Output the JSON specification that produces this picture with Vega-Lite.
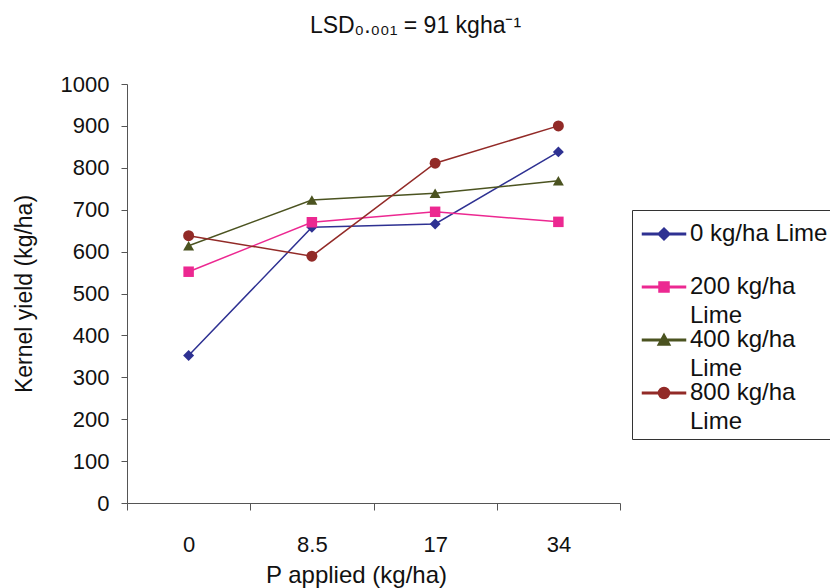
{
  "$schema": "https://vega.github.io/schema/vega-lite/v6.json",
  "width": 493,
  "height": 419,
  "autosize": "none",
  "padding": {"left": 127, "top": 84, "right": 210, "bottom": 85},
  "background": "white",
  "config": {
    "font": "Liberation Sans",
    "view": {"stroke": null},
    "axis": {"labelFont": "Liberation Sans", "titleFont": "Liberation Sans", "labelFontSize": 22, "titleFontSize": 23, "labelColor": "#111", "titleColor": "#111", "titleFontWeight": "normal", "domainColor": "#555", "tickColor": "#555", "grid": false}
  },
  "title": {"text": "LSD₀.₀₀₁ = 91 kgha⁻¹", "fontSize": 23, "fontWeight": "normal", "font": "Liberation Sans", "color": "#111", "offset": 35, "dx": 42},
  "data": {"values": [
    {"P": "0", "series": "0 kg/ha Lime", "yield": 352},
    {"P": "8.5", "series": "0 kg/ha Lime", "yield": 658},
    {"P": "17", "series": "0 kg/ha Lime", "yield": 666},
    {"P": "34", "series": "0 kg/ha Lime", "yield": 838},
    {"P": "0", "series": "200 kg/ha Lime", "yield": 552},
    {"P": "8.5", "series": "200 kg/ha Lime", "yield": 670},
    {"P": "17", "series": "200 kg/ha Lime", "yield": 695},
    {"P": "34", "series": "200 kg/ha Lime", "yield": 671},
    {"P": "0", "series": "400 kg/ha Lime", "yield": 614},
    {"P": "8.5", "series": "400 kg/ha Lime", "yield": 723},
    {"P": "17", "series": "400 kg/ha Lime", "yield": 739},
    {"P": "34", "series": "400 kg/ha Lime", "yield": 769},
    {"P": "0", "series": "800 kg/ha Lime", "yield": 638},
    {"P": "8.5", "series": "800 kg/ha Lime", "yield": 589},
    {"P": "17", "series": "800 kg/ha Lime", "yield": 811},
    {"P": "34", "series": "800 kg/ha Lime", "yield": 900}
  ]},
  "encoding": {
    "x": {"field": "P", "type": "ordinal", "sort": ["0", "8.5", "17", "34"],
      "scale": {"paddingInner": 0, "paddingOuter": 0},
      "axis": {"title": "P applied (kg/ha)", "titleFontSize": 24, "labelAngle": 0, "tickBand": "extent", "tickSize": 7, "labelPadding": 24, "titlePadding": 8, "titleX": 229}},
    "y": {"field": "yield", "type": "quantitative",
      "scale": {"domain": [0, 1000], "nice": false},
      "axis": {"title": "Kernel yield (kg/ha)", "format": "d", "values": [0,100,200,300,400,500,600,700,800,900,1000], "tickSize": 6, "labelPadding": 12, "titlePadding": 24}},
    "color": {"field": "series", "type": "nominal",
      "scale": {"domain": ["0 kg/ha Lime", "200 kg/ha Lime", "400 kg/ha Lime", "800 kg/ha Lime"], "range": ["#2E3192", "#EC2891", "#4B5320", "#922A27"]}}
  },
  "layer": [
    {"mark": {"type": "line", "strokeWidth": 1.5},
     "encoding": {"color": {"field": "series", "type": "nominal",
       "legend": {"title": " ", "titleFontSize": 7, "titlePadding": 0, "orient": "none", "legendX": 505, "legendY": 126,
         "strokeColor": "#333", "padding": 5, "fillColor": "white",
         "labelFont": "Liberation Sans", "labelFontSize": 24, "labelColor": "#111", "labelLimit": 300,
         "labelExpr": "datum.label == '0 kg/ha Lime' ? ['0 kg/ha Lime', ''] : [replace(datum.label, ' Lime', ''), 'Lime']",
         "labelBaseline": "top", "labelOffset": 14, "symbolOffset": 15, "symbolSize": 100, "rowPadding": 0,
         "encode": {
           "labels": {"update": {"dy": {"value": -12}, "lineHeight": {"value": 29}}},
           "symbols": {"update": {
           "shape": {"signal": "datum.value == '0 kg/ha Lime' ? 'M-4.3,-0.15H4.3V0.15H-4.3Z M0,-1.2L1.2,0L0,1.2L-1.2,0Z' : datum.value == '200 kg/ha Lime' ? 'M-4.3,-0.15H4.3V0.15H-4.3Z M-1,-1H1V1H-1Z' : datum.value == '400 kg/ha Lime' ? 'M-4.3,-0.15H4.3V0.15H-4.3Z M0,-1.2L1.2,1L-1.2,1Z' : 'M-4.3,-0.15H4.3V0.15H-4.3Z M-1.1,0A1.1,1.1,0,1,1,1.1,0A1.1,1.1,0,1,1,-1.1,0Z'"},
           "fill": {"scale": "color", "field": "value"},
           "stroke": {"value": "transparent"},
           "opacity": {"value": 1}
         }}}
       }}}},
    {"transform": [{"filter": "datum.series == '0 kg/ha Lime'"}],
     "mark": {"type": "point", "filled": true, "opacity": 1, "size": 120, "shape": "diamond"},
     "encoding": {"color": {"field": "series", "type": "nominal", "legend": null}}},
    {"transform": [{"filter": "datum.series == '200 kg/ha Lime'"}],
     "mark": {"type": "point", "filled": true, "opacity": 1, "size": 110, "shape": "square"},
     "encoding": {"color": {"field": "series", "type": "nominal", "legend": null}}},
    {"transform": [{"filter": "datum.series == '400 kg/ha Lime'"}],
     "mark": {"type": "point", "filled": true, "opacity": 1, "size": 120, "shape": "triangle-up"},
     "encoding": {"color": {"field": "series", "type": "nominal", "legend": null}}},
    {"transform": [{"filter": "datum.series == '800 kg/ha Lime'"}],
     "mark": {"type": "point", "filled": true, "opacity": 1, "size": 120, "shape": "circle"},
     "encoding": {"color": {"field": "series", "type": "nominal", "legend": null}}}
  ]
}
